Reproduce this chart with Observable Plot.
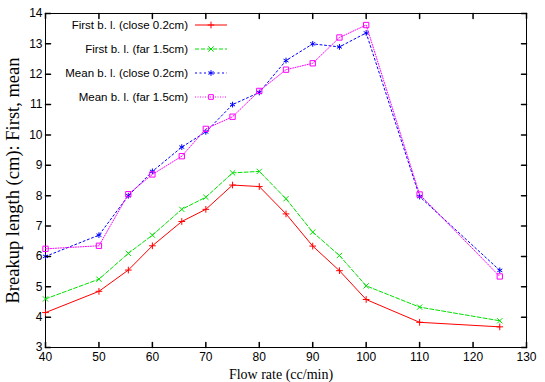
<!DOCTYPE html>
<html><head><meta charset="utf-8">
<script src="https://cdn.jsdelivr.net/npm/d3@7"></script>
<script src="https://cdn.jsdelivr.net/npm/@observablehq/plot@0.6"></script>
<style>html,body{margin:0;padding:0;background:#fff;} svg{display:block;}</style>
</head><body><div id="chart"></div>
<script>
const flowRates = [40, 50, 55.5, 60, 65.5, 70, 75, 80, 85, 90, 95, 100, 110, 125];
const firstClose = [4.15, 4.85, 5.55, 6.35, 7.15, 7.55, 8.35, 8.3, 7.4, 6.34, 5.53, 4.58, 3.83, 3.68];
const firstFar = [4.6, 5.25, 6.1, 6.7, 7.55, 7.95, 8.75, 8.8, 7.9, 6.8, 6.03, 5.03, 4.33, 3.88];
const meanClose = [6.0, 6.7, 8.0, 8.8, 9.6, 10.1, 11.0, 11.4, 12.45, 13.0, 12.9, 13.36, 7.97, 5.54];
const meanFar = [6.25, 6.35, 8.05, 8.7, 9.3, 10.2, 10.6, 11.45, 12.15, 12.36, 13.21, 13.62, 8.04, 5.34];
const seriesNames = ["First b. l. (close 0.2cm)", "First b. l. (far 1.5cm)", "Mean b. l. (close 0.2cm)", "Mean b. l. (far 1.5cm)"];
const xTicks = [40, 50, 60, 70, 80, 90, 100, 110, 120, 130];
const yTicks = [3, 4, 5, 6, 7, 8, 9, 10, 11, 12, 13, 14];
const xLabel = "Flow rate (cc/min)";
const yLabel = "Breakup length (cm): First, mean";

const seriesValues = [firstClose, firstFar, meanClose, meanFar];
const styles = [
  {color: "#ff0000", dash: null, symbol: "plus", r: 2.3},
  {color: "#00e000", dash: "4,2", symbol: "times", r: 2.5},
  {color: "#0000ff", dash: "2,2.5", symbol: "asterisk", r: 2.7},
  {color: "#ff00ff", dash: "1,1.5", symbol: "square", r: 3}
];
const tables = seriesValues.map((vals, i) => flowRates.map((x, j) => ({x, y: vals[j], s: seriesNames[i]})));

const tickShape = {draw(ctx, l) { ctx.moveTo(0, 0); ctx.lineTo(0, -l); }};
const tickLen = 5;
const sans = "'Liberation Sans', Arial, sans-serif";
const serif = "'Liberation Serif', 'Times New Roman', serif";

const marks = [Plot.frame({stroke: "#000", strokeWidth: 1})];
tables.forEach((t, i) => {
  const st = styles[i];
  marks.push(Plot.line(t, {x: "x", y: "y", stroke: st.color, strokeWidth: 1, strokeDasharray: st.dash}));
  marks.push(Plot.dot(t, {x: "x", y: "y", stroke: st.color, symbol: () => st.symbol, r: st.r, strokeWidth: 1, fill: "none"}));
});
marks.push(
  Plot.vector(xTicks, {x: d => d, frameAnchor: "bottom", length: tickLen, rotate: 0, anchor: "start", shape: tickShape, stroke: "#000"}),
  Plot.vector(xTicks, {x: d => d, frameAnchor: "top", length: tickLen, rotate: 180, anchor: "start", shape: tickShape, stroke: "#000"}),
  Plot.vector(yTicks, {y: d => d, frameAnchor: "left", length: tickLen, rotate: 90, anchor: "start", shape: tickShape, stroke: "#000"}),
  Plot.vector(yTicks, {y: d => d, frameAnchor: "right", length: tickLen, rotate: -90, anchor: "start", shape: tickShape, stroke: "#000"}),
  Plot.axisX(xTicks, {anchor: "bottom", tickSize: 0, tickPadding: 5, fontSize: 12, fontFamily: sans, fill: "#000", label: null}),
  Plot.axisY(yTicks, {anchor: "left", tickSize: 0, tickPadding: 3, fontSize: 12, fontFamily: sans, fill: "#000", label: null}),
  Plot.text([xLabel], {text: d => d, frameAnchor: "bottom", textAnchor: "middle", dy: 31, dx: -5, fontFamily: serif, fontSize: 14, fill: "#000"}),
  Plot.text([yLabel], {text: d => d, frameAnchor: "left", textAnchor: "middle", dx: -32, rotate: -90, fontFamily: serif, fontSize: 18.5, fill: "#000"})
);

const chart = Plot.plot({
  width: 545, height: 382,
  marginLeft: 45, marginRight: 19, marginTop: 13, marginBottom: 35,
  x: {domain: [40, 130]},
  y: {domain: [3, 14]},
  style: {background: "#fff", overflow: "visible"},
  marks
});
document.getElementById("chart").append(chart);

// legend
const svg = d3.select(chart);
const g = svg.append("g").attr("font-family", sans).attr("font-size", 11.5);
const symbolMap = {plus: d3.symbolPlus, times: d3.symbolTimes, asterisk: d3.symbolAsterisk, square: d3.symbolSquare2};
seriesNames.forEach((name, i) => {
  const st = styles[i];
  const y = 25 + i * 24;
  g.append("text").attr("x", 188).attr("y", y).attr("dy", "0.35em").attr("text-anchor", "end").attr("fill", "#000").text(name);
  g.append("line").attr("x1", 195).attr("x2", 227).attr("y1", y).attr("y2", y)
    .attr("stroke", st.color).attr("stroke-width", 1).attr("stroke-dasharray", st.dash);
  g.append("path").attr("transform", `translate(211,${y})`)
    .attr("d", d3.symbol(symbolMap[st.symbol], Math.PI * st.r * st.r)())
    .attr("stroke", st.color).attr("fill", "none");
});
</script></body></html>
